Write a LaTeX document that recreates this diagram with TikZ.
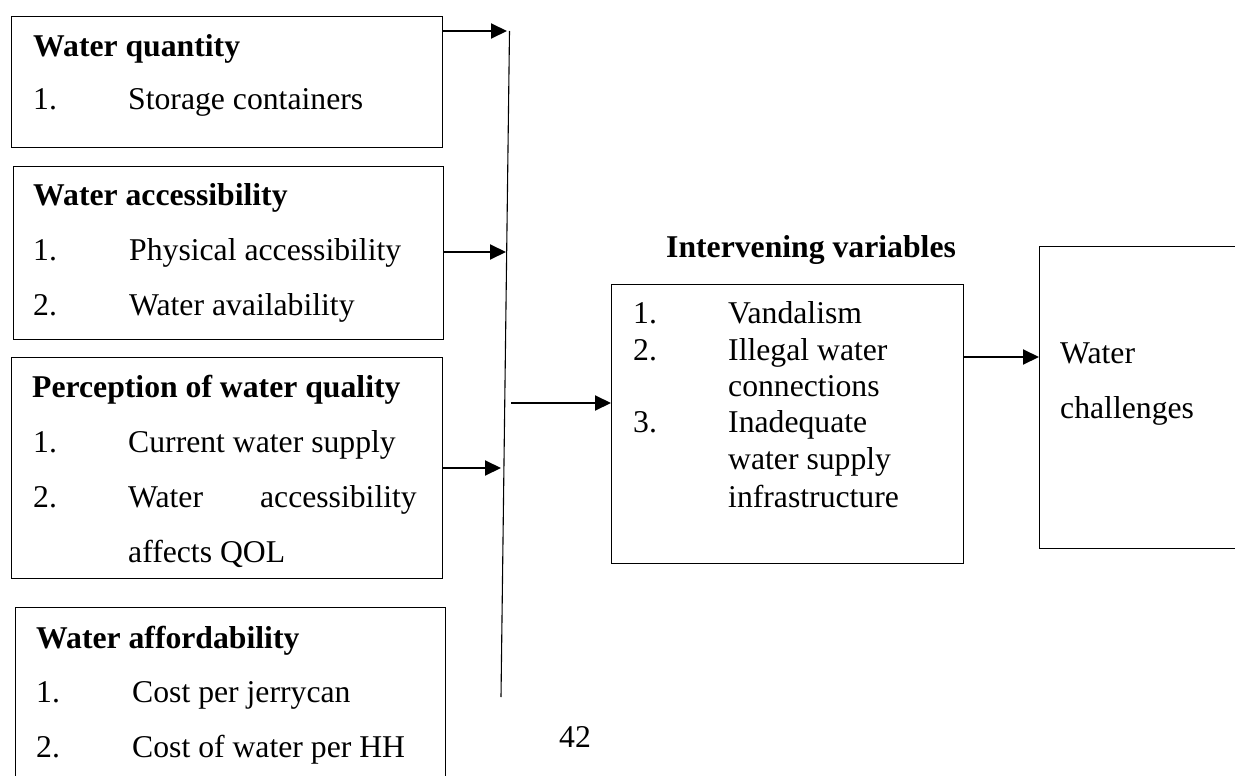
\documentclass[tikz,border=0pt]{standalone}
\usepackage{fontspec}
\setmainfont{Liberation Serif}
\usetikzlibrary{arrows.meta}
\begin{document}
\begin{tikzpicture}[x=1pt,y=-1pt,
  box/.style={draw=black, line width=1.4pt, inner sep=0pt, anchor=north west},
  txt/.style={anchor=base west, inner sep=0pt, font=\fontsize{31.7}{38}\selectfont},
  txte/.style={txt, anchor=base east},
  ttl/.style={txt, font=\fontsize{31.7}{38}\selectfont\bfseries},
  arr/.style={line width=2pt, -{Triangle[length=16pt,width=15pt]}},
  vline/.style={line width=1.1pt}
]
\useasboundingbox (0,0) rectangle (1235,776);
\clip (0,0) rectangle (1235,776);

% boxes
\node[box, minimum width=431pt, minimum height=131pt] (b1) at (11,16) {};
\node[box, minimum width=430pt, minimum height=173pt] (b2) at (13,166) {};
\node[box, minimum width=431pt, minimum height=221pt] (b3) at (11,357) {};
\node[box, minimum width=430pt, minimum height=200pt] (b4) at (15,607) {};
\node[box, minimum width=352pt, minimum height=279pt] (iv) at (611,284) {};
\node[box, minimum width=250pt, minimum height=302pt] (wc) at (1039,246) {};

% box 1 text
\node[ttl] (t1a) at (33,57) {Water quantity};
\node[txt] (t1b) at (33,110) {1.};
\node[txt] (t1c) at (128,110) {Storage containers};

% box 2 text
\node[ttl] (t2a) at (33,205) {Water accessibility};
\node[txt] (t2b) at (33,260) {1.};
\node[txt] (t2c) at (129,260) {Physical accessibility};
\node[txt] (t2d) at (33,315) {2.};
\node[txt] (t2e) at (129,315) {Water availability};

% box 3 text
\node[ttl] (t3a) at (32,397) {Perception of water quality};
\node[txt] (t3b) at (33,452) {1.};
\node[txt] (t3c) at (128,452) {Current water supply};
\node[txt] (t3d) at (33,507) {2.};
\node[txt] (t3e) at (128,507) {Water};
\node[txte] (t3f) at (417,507) {accessibility};
\node[txt] (t3g) at (128,562) {affects QOL};

% box 4 text
\node[ttl] (t4a) at (36,648) {Water affordability};
\node[txt] (t4b) at (36,702) {1.};
\node[txt] (t4c) at (132,702) {Cost per jerrycan};
\node[txt] (t4d) at (36,757) {2.};
\node[txt] (t4e) at (132,757) {Cost of water per HH};

% intervening
\node[ttl] (ivt) at (666,257) {Intervening variables};
\node[txt] (iv1n) at (633,323) {1.};
\node[txt] (iv1) at (728,323) {Vandalism};
\node[txt] (iv2n) at (633,360) {2.};
\node[txt] (iv2) at (728,360) {Illegal water};
\node[txt] (iv2b) at (728,396) {connections};
\node[txt] (iv3n) at (633,432) {3.};
\node[txt] (iv3) at (728,432) {Inadequate};
\node[txt] (iv3b) at (728,469) {water supply};
\node[txt] (iv3c) at (728,507) {infrastructure};

% water challenges
\node[txt] (wc1) at (1060,363) {Water};
\node[txt] (wc2) at (1060,418) {challenges};

% page number
\node[txt] (pg) at (559,747) {42};

% vertical collector line
\coordinate (vt) at (509.5,31);
\coordinate (vb) at (501,697);
\draw[vline] (vt) -- (vb);

% arrow end points
\coordinate (e1) at (507,31);
\coordinate (e2) at (506,252);
\coordinate (e3) at (501,468);
\coordinate (s4) at (511,403);
\coordinate (s5) at (963,357);

\draw[arr] (b1.east |- e1) -- (e1);
\draw[arr] (b2.east |- e2) -- (e2);
\draw[arr] (b3.east |- e3) -- (e3);
\draw[arr] (s4) -- (iv.west |- s4);
\draw[arr] (iv.east |- s5) -- (wc.west |- s5);
\end{tikzpicture}
\end{document}
